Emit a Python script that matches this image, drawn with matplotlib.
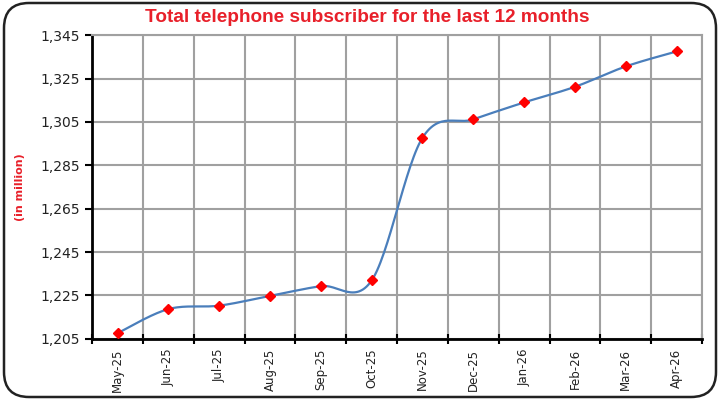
import matplotlib
matplotlib.use('Agg')
import matplotlib.pyplot as plt
import matplotlib.patches as patches
import numpy as np

months = ['May-25', 'Jun-25', 'Jul-25', 'Aug-25', 'Sep-25', 'Oct-25',
          'Nov-25', 'Dec-25', 'Jan-26', 'Feb-26', 'Mar-26', 'Apr-26']
subscribers = [1207.6, 1218.7, 1220.3, 1224.8, 1229.3, 1231.9,
               1297.7, 1306.2, 1314.0, 1321.2, 1330.6, 1337.5]
y_ticks = [1205, 1225, 1245, 1265, 1285, 1305, 1325, 1345]


def smooth_line(xs, ys, steps=30):
    # Excel-style smoothed line: cubic Bezier with Catmull-Rom control points
    xs = np.asarray(xs, float)
    ys = np.asarray(ys, float)
    px, py = np.r_[xs[0], xs, xs[-1]], np.r_[ys[0], ys, ys[-1]]
    out_x, out_y = [], []
    t = np.linspace(0, 1, steps)
    for i in range(1, len(px) - 2):
        p0 = np.array([px[i], py[i]])
        p3 = np.array([px[i + 1], py[i + 1]])
        c1 = p0 + (np.array([px[i + 1], py[i + 1]]) - np.array([px[i - 1], py[i - 1]])) / 6
        c2 = p3 - (np.array([px[i + 2], py[i + 2]]) - np.array([px[i], py[i]])) / 6
        b = ((1 - t) ** 3)[:, None] * p0 + (3 * (1 - t) ** 2 * t)[:, None] * c1 \
            + (3 * (1 - t) * t ** 2)[:, None] * c2 + (t ** 3)[:, None] * p3
        out_x.extend(b[:, 0])
        out_y.extend(b[:, 1])
    return out_x, out_y


fig = plt.figure(figsize=(7.2, 4.0), dpi=100)
fig.patch.set_facecolor('white')

# rounded chart border
fig.patches.append(patches.FancyBboxPatch(
    (0.04, 0.03), 7.12, 3.94, boxstyle='round,pad=0,rounding_size=0.25',
    transform=fig.dpi_scale_trans, facecolor='none', edgecolor='#222222',
    linewidth=1.8, zorder=0))

ax = fig.add_axes([0.128, 0.153, 0.847, 0.759])
x = np.arange(len(months)) + 0.5
sx, sy = smooth_line(x, subscribers)
ax.plot(sx, sy, color='#4a7ebb', linewidth=1.6, zorder=3)
ax.plot(x, subscribers, linestyle='none', marker='D', markersize=5.5,
        color='#ff0000', markeredgecolor='#ff0000', zorder=4)

ax.set_xlim(0, len(months))
ax.set_ylim(y_ticks[0], y_ticks[-1])
ax.set_yticks(y_ticks)
ax.set_yticklabels([f'{v:,}' for v in y_ticks], fontsize=10, color='#222222')
ax.set_xticks(np.arange(len(months) + 1))
ax.set_xticklabels([])
ax.set_xticks(x, minor=True)
ax.set_xticklabels(months, minor=True, rotation=90, fontsize=8.5, color='#222222')
ax.tick_params(axis='x', which='minor', length=0, pad=7)
ax.tick_params(axis='x', which='major', direction='inout', length=7, width=1.5)
ax.tick_params(axis='y', direction='out', length=5, width=1.5, pad=4)

ax.grid(True, which='major', color='#a0a0a0', linewidth=1.5, zorder=0)
ax.set_axisbelow(True)
for side in ('top', 'right'):
    ax.spines[side].set_color('#a0a0a0')
    ax.spines[side].set_linewidth(1.5)
for side in ('left', 'bottom'):
    ax.spines[side].set_color('black')
    ax.spines[side].set_linewidth(2)

ax.set_ylabel('(in million)', color='#e8202a', fontsize=8, fontweight='bold',
              labelpad=11)
fig.text(0.51, 0.957, 'Total telephone subscriber for the last 12 months',
         ha='center', va='center', color='#e8202a', fontsize=13.7,
         fontweight='bold', family='Liberation Sans')

fig.savefig('out.png', dpi=100)
